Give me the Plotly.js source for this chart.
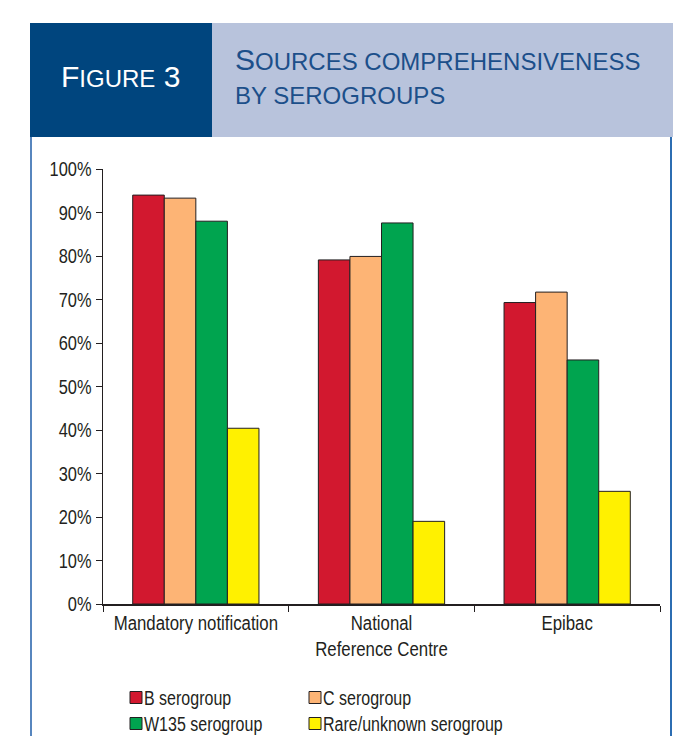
<!DOCTYPE html>
<html>
<head>
<meta charset="utf-8">
<script src="https://cdn.plot.ly/plotly-3.0.1.min.js"></script>
<style>
  html, body { margin: 0; padding: 0; background: #ffffff; }
  #chart { width: 681px; height: 736px; }
</style>
</head>
<body>
<div id="chart"></div>
<script>
// Surveillance sources (categories on the x axis)
const sources = ['Mandatory notification', 'National<br>Reference Centre', 'Epibac'];

// Serogroup series names
const serogroupNames = ['B serogroup', 'C serogroup', 'W135 serogroup', 'Rare/unknown serogroup'];

// Comprehensiveness (%) of each source, per serogroup
const bSerogroup    = [94.0, 79.1, 69.3];
const cSerogroup    = [93.3, 79.9, 71.7];
const w135Serogroup = [88.0, 87.6, 56.1];
const rareSerogroup = [40.4, 19.0, 25.9];

// Y axis ticks
const yTickValues = [0, 10, 20, 30, 40, 50, 60, 70, 80, 90, 100];
const yTickLabels = ['0%', '10%', '20%', '30%', '40%', '50%', '60%', '70%', '80%', '90%', '100%'];

// Header texts
const figureLabel = 'F<span style="font-size:24px">IGURE</span> 3';
const titleLine1 = 'S<span style="font-size:24px">OURCES COMPREHENSIVENESS</span>';
const titleLine2 = 'BY SEROGROUPS';

// ---- page geometry ----
const W = 681, H = 736;
const M = { l: 103, r: 21, t: 169, b: 132, autoexpand: false };
const plotW = W - M.l - M.r;
const plotH = H - M.t - M.b;
const px = x => (x - M.l) / plotW;          // page pixel -> paper x
const py = y => (H - M.b - y) / plotH;      // page pixel -> paper y

const colors = ['#d2182f', '#fdb475', '#00a44f', '#fff100'];
const series = [bSerogroup, cSerogroup, w135Serogroup, rareSerogroup];
const ink = '#231f20';
const sans = '"Liberation Sans", Arial, sans-serif';

// one legend box per entry: two columns, two rows
const legendIds = ['legend', 'legend2', 'legend3', 'legend4'];
const legendLeft = [116, 295, 116, 295];
const legendTop = [678, 678, 704, 704];

const traces = series.map((vals, i) => ({
  type: 'bar',
  name: serogroupNames[i],
  x: sources,
  y: vals,
  legend: legendIds[i],
  marker: { color: colors[i], line: { color: ink, width: 1 } },
  hoverinfo: 'skip'
}));

const legendFont = { family: sans, size: 20, color: ink };

const layout = {
  width: W,
  height: H,
  margin: M,
  paper_bgcolor: '#ffffff',
  plot_bgcolor: '#ffffff',
  barmode: 'group',
  bargap: 0.32,
  bargroupgap: 0,
  showlegend: true,
  xaxis: {
    type: 'category',
    showline: true, linecolor: ink, linewidth: 1.5,
    ticks: 'outside', tickson: 'boundaries', ticklen: 6, tickcolor: ink, tickwidth: 1,
    tickangle: 0,
    showgrid: false, zeroline: false,
    tickfont: { family: sans, size: 20, color: ink },
    fixedrange: true
  },
  yaxis: {
    range: [0, 100],
    tickvals: yTickValues,
    ticktext: yTickLabels,
    showline: true, linecolor: ink, linewidth: 1.5,
    ticks: 'outside', ticklen: 6, tickcolor: ink, tickwidth: 1,
    showgrid: false, zeroline: false,
    tickfont: { family: sans, size: 20, color: ink },
    fixedrange: true
  },
  shapes: [
    // frame of the figure panel
    { type: 'line', xref: 'paper', yref: 'paper', x0: px(31), x1: px(31), y0: py(137), y1: py(737),
      line: { color: '#1f5ea8', width: 1.5 } },
    { type: 'line', xref: 'paper', yref: 'paper', x0: px(671), x1: px(671), y0: py(137), y1: py(737),
      line: { color: '#2c6db2', width: 2 } },
    // header boxes
    { type: 'rect', xref: 'paper', yref: 'paper', x0: px(212), x1: px(673), y0: py(137), y1: py(23),
      fillcolor: '#b8c3dc', line: { width: 0 } },
    { type: 'rect', xref: 'paper', yref: 'paper', x0: px(30), x1: px(212), y0: py(137), y1: py(23),
      fillcolor: '#00457e', line: { width: 0 } }
  ],
  annotations: [
    { xref: 'paper', yref: 'paper', x: px(59), y: py(76), xanchor: 'left', yanchor: 'middle',
      text: figureLabel, showarrow: false,
      font: { family: sans, size: 30, color: '#ffffff' } },
    { xref: 'paper', yref: 'paper', x: px(233), y: py(59), xanchor: 'left', yanchor: 'middle',
      text: titleLine1, showarrow: false,
      font: { family: sans, size: 30, color: '#1c4f8a' } },
    { xref: 'paper', yref: 'paper', x: px(233), y: py(95.5), xanchor: 'left', yanchor: 'middle',
      text: titleLine2, showarrow: false,
      font: { family: sans, size: 24, color: '#1c4f8a' } }
  ]
};

legendIds.forEach((id, i) => {
  layout[id] = {
    x: px(legendLeft[i]), xanchor: 'left', y: py(legendTop[i]), yanchor: 'top',
    orientation: 'v', font: legendFont, bgcolor: 'rgba(0,0,0,0)'
  };
});

// narrow the glyphs of a text run to a condensed width (done once per text content)
function condense(el, factor) {
  if (el.getAttribute('data-condensed') === el.textContent) return;
  const lines = el.querySelectorAll('tspan.line');
  const runs = lines.length ? Array.from(lines) : [el];
  runs.forEach(r => {
    r.removeAttribute('textLength');
    const w = r.getComputedTextLength();
    r.setAttribute('textLength', (w * factor).toFixed(1));
    r.setAttribute('lengthAdjust', 'spacingAndGlyphs');
  });
  el.setAttribute('data-condensed', el.textContent);
}

function restyleText() {
  const root = document.getElementById('chart');
  // legend labels: tighter gap to the swatch, condensed glyphs
  const legendTextSel = legendIds.map(id => '.' + id + 'text').join(', ');
  root.querySelectorAll(legendTextSel).forEach(t => {
    t.setAttribute('x', 28);
    condense(t, 0.8);
  });
  root.querySelectorAll('.xtick text').forEach(t => condense(t, 0.84));
  root.querySelectorAll('.ytick text').forEach(t => condense(t, 0.82));
}

const gd = document.getElementById('chart');
Plotly.newPlot(gd, traces, layout, { staticPlot: true, displayModeBar: false }).then(() => {
  restyleText();
  gd.on('plotly_afterplot', restyleText);
  [0, 50, 200].forEach(ms => setTimeout(restyleText, ms));
});
</script>
</body>
</html>
